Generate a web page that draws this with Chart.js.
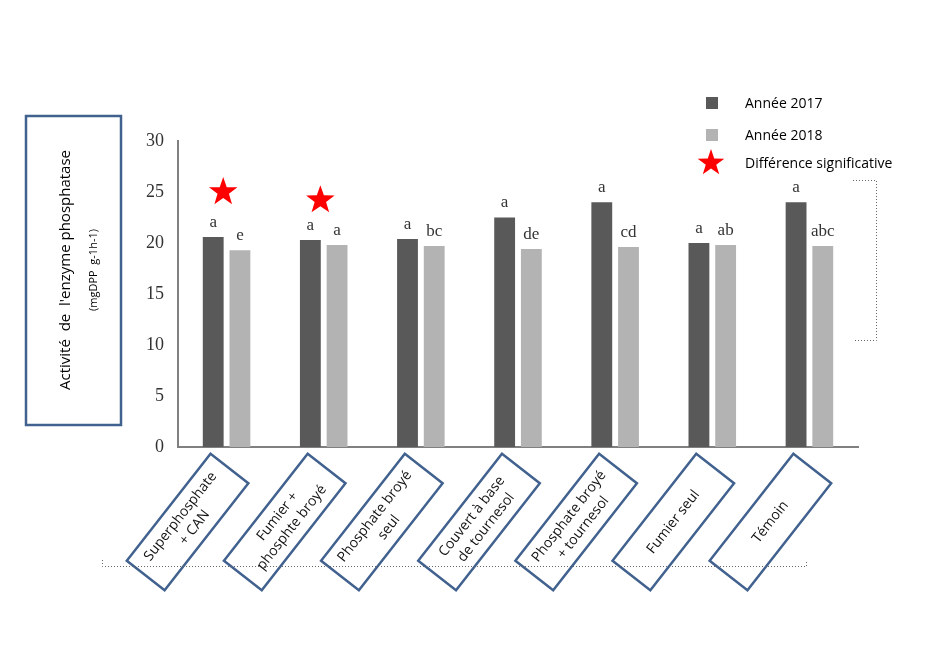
<!DOCTYPE html>
<html><head><meta charset="utf-8">
<script src="https://cdn.jsdelivr.net/npm/chart.js@4/dist/chart.umd.min.js"></script>
<style>html,body{margin:0;background:#fff}#c{display:block}</style>
</head><body>
<canvas id="c" width="931" height="655"></canvas>
<script>
const categories = [
  ['Superphosphate', '+ CAN'],
  ['Fumier +', 'phosphte broyé'],
  ['Phosphate broyé', 'seul'],
  ['Couvert à base', 'de tournesol'],
  ['Phosphate broyé', '+ tournesol'],
  ['Fumier seul'],
  ['Témoin']
];
const values2017 = [20.6, 20.3, 20.4, 22.5, 24.0, 20.0, 24.0];
const values2018 = [19.3, 19.8, 19.7, 19.4, 19.6, 19.8, 19.7];
const letters2017 = ['a', 'a', 'a', 'a', 'a', 'a', 'a'];
const letters2018 = ['e', 'a', 'bc', 'de', 'cd', 'ab', 'abc'];
const starValues = [25, 24.2, null, null, null, null, null];
const yTicks = [0, 5, 10, 15, 20, 25, 30];

function star(ctx, cx, cy, R, r) {
  ctx.beginPath();
  for (let i = 0; i < 10; i++) {
    const rad = i % 2 ? r : R;
    const a = -Math.PI / 2 + i * Math.PI / 5;
    ctx.lineTo(cx + rad * Math.cos(a), cy + rad * Math.sin(a));
  }
  ctx.closePath();
  ctx.fill();
}

const decor = {
  id: 'decor',
  afterDraw(chart) {
    const ctx = chart.ctx, x = chart.scales.x, y = chart.scales.y;
    const m0 = chart.getDatasetMeta(0), m1 = chart.getDatasetMeta(1);
    ctx.save();
    // letters
    ctx.fillStyle = '#333';
    ctx.font = '17px "Liberation Serif"';
    ctx.textAlign = 'center';
    ctx.textBaseline = 'bottom';
    m0.data.forEach((b, i) => ctx.fillText(letters2017[i], b.x, b.y - 6));
    m1.data.forEach((b, i) => ctx.fillText(letters2018[i], b.x, b.y - 6));
    // stars
    ctx.fillStyle = '#ff0000';
    starValues.forEach((v, i) => {
      if (v != null) star(ctx, m0.data[i].x + 10, y.getPixelForValue(v), 15, 6);
    });
    // category boxes
    categories.forEach((lines, i) => {
      const xc = x.getPixelForValue(i);
      ctx.save();
      ctx.translate(xc - 39, 522);
      ctx.rotate(-52 * Math.PI / 180);
      ctx.fillStyle = '#fff';
      ctx.fillRect(-68, -24, 136, 48);
      ctx.strokeStyle = '#41618f';
      ctx.lineWidth = 2.5;
      ctx.strokeRect(-68, -24, 136, 48);
      ctx.fillStyle = '#111';
      ctx.font = '14px "Open Sans"';
      ctx.textBaseline = 'middle';
      const lh = 18, y0 = -(lines.length - 1) * lh / 2;
      lines.forEach((t, k) => ctx.fillText(t, 0, y0 + k * lh));
      ctx.restore();
    });
    // y title box
    ctx.strokeStyle = '#41618f';
    ctx.lineWidth = 2.5;
    ctx.strokeRect(26, 116, 95, 309);
    ctx.save();
    ctx.translate(70, 270);
    ctx.rotate(-Math.PI / 2);
    ctx.fillStyle = '#000';
    ctx.textBaseline = 'middle';
    ctx.font = '15px "Open Sans"';
    ctx.fillText("Activité  de  l'enzyme phosphatase", 0, -4);
    ctx.font = '11px "Open Sans"';
    ctx.fillText('(mgDPP  g-1h-1)', 0, 24);
    ctx.restore();
    // legend
    ctx.font = '14px "Open Sans"';
    ctx.textAlign = 'left';
    ctx.fillStyle = '#595959';
    ctx.fillRect(706, 97, 12, 12);
    ctx.fillStyle = '#b3b3b3';
    ctx.fillRect(706, 129, 12, 12);
    ctx.fillStyle = '#ff0000';
    star(ctx, 711, 163, 14, 5.5);
    ctx.fillStyle = '#000';
    ctx.textBaseline = 'middle';
    ctx.fillText('Année 2017', 745, 104);
    ctx.fillText('Année 2018', 745, 136);
    ctx.fillText('Différence significative', 745, 164);
    // dotted guides
    ctx.strokeStyle = '#666';
    ctx.lineWidth = 1;
    ctx.setLineDash([1, 2]);
    ctx.beginPath();
    ctx.moveTo(853, 180.5); ctx.lineTo(876.5, 180.5); ctx.lineTo(876.5, 340.5); ctx.lineTo(853, 340.5);
    ctx.moveTo(102.5, 560); ctx.lineTo(102.5, 566.5); ctx.lineTo(806.5, 566.5); ctx.lineTo(806.5, 560);
    ctx.stroke();
    ctx.restore();
  }
};

new Chart(document.getElementById('c'), {
  type: 'bar',
  data: {
    labels: categories,
    datasets: [
      { label: 'Année 2017', data: values2017, backgroundColor: '#595959' },
      { label: 'Année 2018', data: values2018, backgroundColor: '#b3b3b3' }
    ]
  },
  options: {
    responsive: false,
    animation: false,
    barPercentage: 0.78,
    categoryPercentage: 0.55,
    layout: { padding: { left: 128, right: 73, top: 141, bottom: 208 } },
    plugins: { legend: { display: false }, tooltip: { enabled: false } },
    scales: {
      x: {
        grid: { display: false },
        ticks: { display: false },
        border: { color: '#808080', width: 2 },
        afterFit: s => { s.height = 0; }
      },
      y: {
        min: 0, max: 30,
        afterBuildTicks: s => { s.ticks = yTicks.map(v => ({ value: v })); },
        grid: { display: false, drawTicks: true, tickLength: 6 },
        border: { color: '#808080', width: 2 },
        ticks: { color: '#333', padding: 8, font: { family: 'Liberation Serif', size: 18 } },
        afterFit: s => { s.width = 50; }
      }
    }
  },
  plugins: [decor]
});
</script>
</body></html>
